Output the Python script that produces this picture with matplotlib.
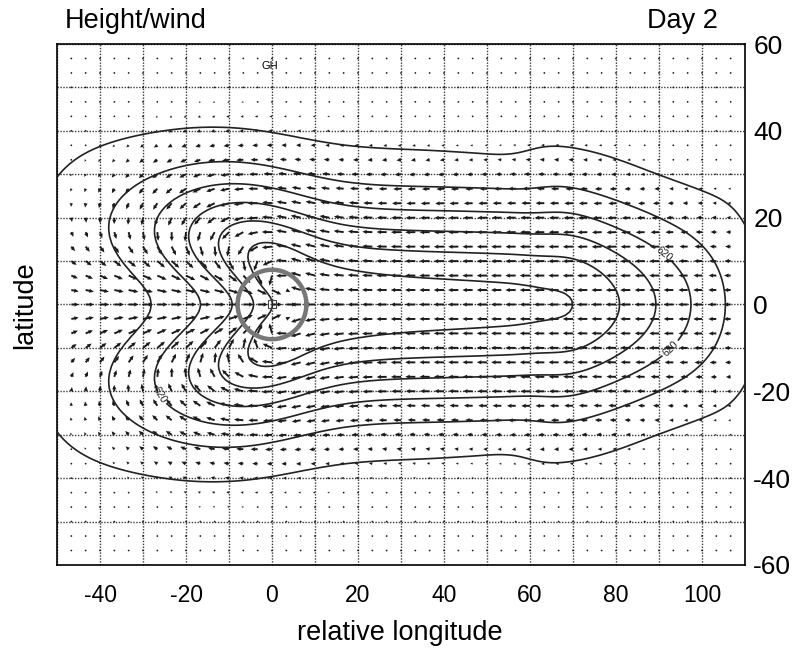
import numpy as np
import matplotlib.pyplot as plt

plt.rcParams['font.family'] = ['Liberation Sans', 'DejaVu Sans']
plt.rcParams['axes.unicode_minus'] = False

# shallow-water spin-up (equatorial beta plane) to a circular mass sink
wave_speed = 77.0           # m/s
heat_center = [0.0, 0.0]    # lon, lat
heat_radius = 8.0           # deg, drawn as the grey ring
forcing_radius = 9.0        # deg, cosine hat
ramp_days = 0.8             # forcing grows linearly over this time
day_shown = 2
ref_point = [18.0, 0.0]     # depth of the Kelvin trough is fixed here
ref_depth = 31.0
base_height = 633.0
arrow_len_max = 2.4         # deg, longest arrow
arrow_soft = 0.3            # arrows saturate above this fraction of ref wind

levels = [l for l in range(540, 635, 5) if l != 620]
label_level = 620
label_spots = [(91.6, 12.0), (94.0, -11.5), (-28.0, -22.0)]

lon_ticks = [-40, -20, 0, 20, 40, 60, 80, 100]
lat_ticks = [-60, -40, -20, 0, 20, 40, 60]
lon_range = [-50, 110]
lat_range = [-60, 60]
grid_step = 10
arrow_every = 4             # 4 * 5/6 deg = 3.33 deg between arrows

#%% run the model
deg = 111195.0
beta = 2.289e-11
grav = 9.81
H = wave_speed**2 / grav
dd = 5.0 / 6.0
lon = -150 + dd * np.arange(432)
lat = -80 + dd * np.arange(193)
X, Y = np.meshgrid(lon, lat)
ym = Y * deg
d = dd * deg

r = np.hypot(X - heat_center[0], Y - heat_center[1])
Q = 0.5 * (1 + np.cos(np.pi * np.clip(r / forcing_radius, 0, 1))) * 1e-4
eps = 1.0 / (10 * 86400)
kdiff = 1.0e5


def ddx(f):
    return (np.roll(f, -1, 1) - np.roll(f, 1, 1)) / (2 * d)


def ddy(f):
    return np.gradient(f, d, axis=0)


def lap(f):
    return (np.roll(f, -1, 1) + np.roll(f, 1, 1) - 2 * f) / d**2 + \
        np.gradient(np.gradient(f, d, axis=0), d, axis=0)


def tend(u, v, h, t):
    amp = min(t / (ramp_days * 86400), 1.0)
    du = beta * ym * v - grav * ddx(h) - eps * u + kdiff * lap(u)
    dv = -beta * ym * u - grav * ddy(h) - eps * v + kdiff * lap(v)
    dh = -H * (ddx(u) + ddy(v)) - amp * Q - eps * h + kdiff * lap(h)
    dv[0, :] = 0
    dv[-1, :] = 0
    return du, dv, dh


u = np.zeros_like(X)
v = np.zeros_like(X)
h = np.zeros_like(X)
dt = 1200.0
for n in range(int(day_shown * 86400 / dt)):
    t = n * dt
    k1 = tend(u, v, h, t)
    k2 = tend(u + 0.5 * dt * k1[0], v + 0.5 * dt * k1[1], h + 0.5 * dt * k1[2], t + dt / 2)
    k3 = tend(u + 0.5 * dt * k2[0], v + 0.5 * dt * k2[1], h + 0.5 * dt * k2[2], t + dt / 2)
    k4 = tend(u + dt * k3[0], v + dt * k3[1], h + dt * k3[2], t + dt)
    u = u + dt / 6 * (k1[0] + 2 * k2[0] + 2 * k3[0] + k4[0])
    v = v + dt / 6 * (k1[1] + 2 * k2[1] + 2 * k3[1] + k4[1])
    h = h + dt / 6 * (k1[2] + 2 * k2[2] + 2 * k3[2] + k4[2])

i0 = np.argmin(abs(lon - ref_point[0]))
j0 = np.argmin(abs(lat - ref_point[1]))
fac = ref_depth / abs(h[j0, i0])
Z = base_height + h * fac

#%% plot
fig = plt.figure(figsize=(8.04, 6.53), dpi=100)
ax = fig.add_axes([0.0709, 0.1348, 0.8557, 0.7978])

sel_x = (lon >= lon_range[0] - 1) & (lon <= lon_range[1] + 1)
sel_y = (lat >= lat_range[0] - 1) & (lat <= lat_range[1] + 1)
xs, ys = lon[sel_x], lat[sel_y]
Zs = Z[np.ix_(sel_y, sel_x)]

for gx in range(lon_range[0], lon_range[1] + 1, grid_step):
    ax.axvline(gx, color='#3a3a3a', lw=1.0, ls=(0, (1, 1.1)), zorder=1)
for gy in range(lat_range[0], lat_range[1] + 1, grid_step):
    ax.axhline(gy, color='#3a3a3a', lw=1.0, ls=(0, (1, 1.1)), zorder=1)

# winds: direction from the model, length saturating for strong flow
ia = np.arange(120 + arrow_every, 120 + 192, arrow_every)
ja = np.arange(24 + arrow_every, 24 + 144, arrow_every)
ua = u[np.ix_(ja, ia)]
va = v[np.ix_(ja, ia)]
spd = np.hypot(ua, va)
s_ref = abs(u[j0, i0])
alen = arrow_len_max * np.tanh(spd / (arrow_soft * s_ref))
ua = np.where(spd > 0, ua / np.maximum(spd, 1e-12), 0) * alen
va = np.where(spd > 0, va / np.maximum(spd, 1e-12), 0) * alen
ax.quiver(lon[ia], lat[ja], ua, va, angles='xy', scale_units='xy',
          scale=1.0, width=0.0028, headwidth=2.2, headlength=2.4,
          headaxislength=2.2, color='#1a1a1a', zorder=2)

cs = ax.contour(xs, ys, Zs, levels=levels, colors='#222222',
                linewidths=1.2, zorder=3)
cs620 = ax.contour(xs, ys, Zs, levels=[label_level], colors='#222222',
                   linewidths=1.2, zorder=3)
if Zs.min() < label_level < Zs.max():
    ax.clabel(cs620, manual=label_spots, fmt='%d', fontsize=7.5, inline=True,
              inline_spacing=2)

th = np.linspace(0, 2 * np.pi, 200)
ax.plot(heat_center[0] + heat_radius * np.cos(th),
        heat_center[1] + heat_radius * np.sin(th),
        color='#777777', lw=3.2, zorder=4)
ax.plot(heat_center[0], heat_center[1], marker='s', ms=6, mfc='none',
        mec='#444444', mew=0.8, zorder=5)
ax.text(-0.5, 55, 'GH', fontsize=8, ha='center', va='center', zorder=5)

ax.set_xlim(lon_range)
ax.set_ylim(lat_range)
ax.set_xticks(lon_ticks)
ax.set_yticks(lat_ticks)
ax.yaxis.tick_right()
ax.tick_params(length=0)
ax.tick_params(axis='x', pad=14, labelsize=16.5)
ax.tick_params(axis='y', pad=6, labelsize=19)
for s in ax.spines.values():
    s.set_linewidth(1.2)

fig.text(0.081, 0.968, 'Height/wind', fontsize=19.5, ha='left', va='center')
fig.text(0.893, 0.968, 'Day %d' % day_shown, fontsize=19.5, ha='right',
         va='center')
fig.text(0.4975, 0.03, 'relative longitude', fontsize=19.5, ha='center',
         va='center')
fig.text(0.031, 0.533, 'latitude', fontsize=19.5, rotation=90, ha='center',
         va='center')

fig.savefig('out.png', dpi=100)
